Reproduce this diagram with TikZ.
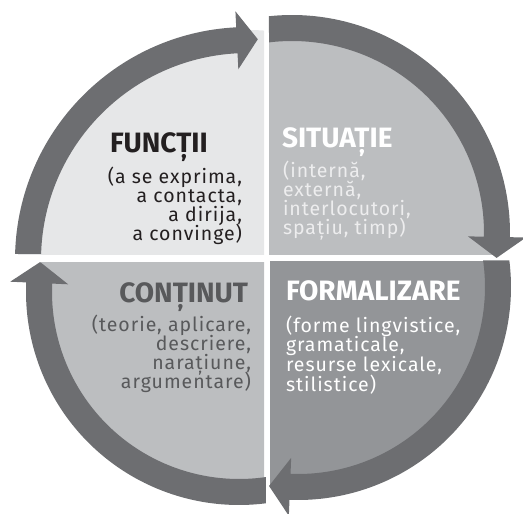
\documentclass[tikz,border=0pt]{standalone}
\usepackage{fontspec}
\setmainfont{Fira Sans}
\newfontfamily\bodyfont[LetterSpace=5]{Fira Sans}
\newfontfamily\headfont{Fira Sans}
\definecolor{ringc}{HTML}{6D6E71}
\definecolor{fillA}{HTML}{E6E7E8}
\definecolor{fillB}{HTML}{BCBEC0}
\definecolor{fillC}{HTML}{939598}
\definecolor{txtK}{HTML}{231F20}
\definecolor{txtD}{HTML}{58595B}
\definecolor{txtL}{HTML}{EDEDEE}
\tikzset{
  ringarrow/.style={fill=ringc},
  headtxt/.style={inner sep=0pt, outer sep=0pt, font=\headfont\bfseries\fontsize{28}{28}\selectfont},
  bodytxt/.style={inner sep=0pt, outer sep=0pt, font=\bodyfont\fontsize{19.5}{19.5}\selectfont},
  lineW/.style={bodytxt, anchor=base west},
  lineE/.style={bodytxt, anchor=base east},
}
\begin{document}
\begin{tikzpicture}[x=1pt,y=1pt]
\useasboundingbox (0,0) rectangle (523,-514);
% quadrant fills
\begin{scope}
  \clip (0,-254) rectangle (264,0);
  \fill[fillA] (248,-260) circle[radius=230];
\end{scope}
\begin{scope}
  \clip (269,-254) rectangle (523,0);
  \fill[fillB] (292,-233) circle[radius=207];
\end{scope}
\begin{scope}
  \clip (0,-262) rectangle (264,-514);
  \fill[fillB] (239,-292) circle[radius=200];
\end{scope}
\begin{scope}
  \clip (270,-261) rectangle (523,-514);
  \fill[fillC] (298,-287) circle[radius=201];
\end{scope}
% ring arrows
\begin{scope}[shift={(248,-260)}]
  \fill[ringarrow] (178.5:233) arc[start angle=178.5, end angle=92.9, radius=233]
    -- (92.9:249) -- (87.45:221) -- (92.9:191) -- (92.9:207)
    arc[start angle=92.9, end angle=178.3, radius=207] -- cycle;
\end{scope}
\begin{scope}[shift={(292,-233)}]
  \fill[ringarrow] (96.06:218) arc[start angle=96.06, end angle=-1.1, radius=218]
    -- (-1.1:234) -- (-6.95:206.1) -- (-1.1:176) -- (-1.1:192)
    arc[start angle=-1.1, end angle=96.88, radius=192] -- cycle;
\end{scope}
\begin{scope}[shift={(298,-287)}]
  \fill[ringarrow] (7.15:213) arc[start angle=7.15, end angle=-92.29, radius=213]
    -- (-92.29:229) -- (-98.28:201.1) -- (-92.29:171) -- (-92.29:187)
    arc[start angle=-92.29, end angle=8.15, radius=187] -- cycle;
\end{scope}
\begin{scope}[shift={(239,-292)}]
  \fill[ringarrow] (-82.72:213) arc[start angle=-82.72, end angle=-182.58, radius=213]
    -- (-182.58:229) -- (-188.57:201.1) -- (-182.58:171) -- (-182.58:187)
    arc[start angle=-182.58, end angle=-81.70, radius=187] -- cycle;
\end{scope}
% FUNCTII
\node[headtxt, anchor=base west, text=txtK] (h1) at (110,-152) {FUNCȚII};
\node[lineE, text=txtK] (h1a) at (242,-183) {(a se exprima,};
\node[lineE, text=txtK] (h1b) at (242,-202) {a contacta,};
\node[lineE, text=txtK] (h1c) at (242,-221) {a dirija,};
\node[lineE, text=txtK] (h1d) at (242,-240) {a convinge)};
% SITUATIE
\node[headtxt, anchor=base west, text=white] (h2) at (282,-147) {SITUAȚIE};
\node[lineW, text=txtL] (h2a) at (283,-177) {(internă,};
\node[lineW, text=txtL] (h2b) at (283,-196) {externă,};
\node[lineW, text=txtL] (h2c) at (283,-215) {interlocutori,};
\node[lineW, text=txtL] (h2d) at (283,-234) {spațiu, timp)};
% CONTINUT
\node[headtxt, anchor=base east, text=txtD] (h3) at (248,-302) {CONȚINUT};
\node[lineE, text=txtD] (h3a) at (251,-331) {(teorie, aplicare,};
\node[lineE, text=txtD] (h3b) at (251,-350) {descriere,};
\node[lineE, text=txtD] (h3c) at (251,-369) {narațiune,};
\node[lineE, text=txtD] (h3d) at (251,-388) {argumentare)};
% FORMALIZARE
\node[headtxt, anchor=base west, text=white] (h4) at (286,-300) {FORMALIZARE};
\node[lineW, text=white] (h4a) at (286,-332) {(forme lingvistice,};
\node[lineW, text=white] (h4b) at (286,-351) {gramaticale,};
\node[lineW, text=white] (h4c) at (286,-371) {resurse lexicale,};
\node[lineW, text=white] (h4d) at (286,-391) {stilistice)};
\end{tikzpicture}
\end{document}
